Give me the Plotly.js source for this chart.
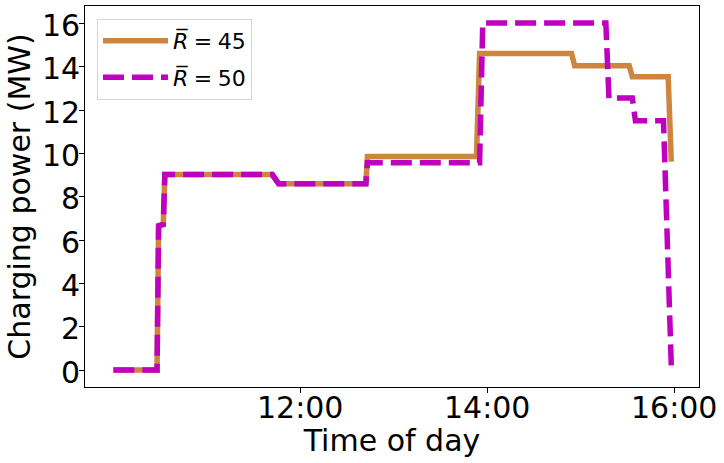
<!DOCTYPE html>
<html><head><meta charset="utf-8">
<script src="https://cdn.plot.ly/plotly-3.0.1.min.js"></script>
<style>html,body{margin:0;padding:0;background:#fff}#chart{width:724px;height:463px}</style>
</head><body><div id="chart"></div>
<script>
const day = '2021-01-01 ';
const timesR45 = ['10:00','10:28','10:29','10:32','10:33','11:42','11:46','12:42','12:43','13:53','13:55','14:54','14:56','15:31','15:33','15:56','15:58'];
const powerR45 = [0,0,6.66,6.72,9.02,9.02,8.6,8.6,9.86,9.86,14.61,14.61,14.04,14.04,13.54,13.54,9.62];
const timesR50 = ['10:00','10:28','10:29','10:32','10:33','11:42','11:46','12:42','12:43','13:55','13:57','15:16','15:18','15:33','15:35','15:53','15:58'];
const powerR50 = [0,0,6.66,6.72,9.02,9.02,8.6,8.6,9.57,9.57,16.02,16.02,12.55,12.55,11.5,11.5,0.2];
const xTickLabels = ['12:00','14:00','16:00'];
const yTickValues = [0,2,4,6,8,10,12,14,16];
const seriesNames = ['<i>R\u0305</i>\u2005=\u200545','<i>R\u0305</i>\u2005=\u200550'];

const font = 'DejaVu Sans, sans-serif';
const traces = [
  {x: timesR45.map(t => day + t), y: powerR45, mode: 'lines', name: seriesNames[0], legendgroup: 'a',
   line: {color: '#CD853F', width: 5.5}},
  {x: timesR50.map(t => day + t), y: powerR50, mode: 'lines', name: seriesNames[1], legendgroup: 'b',
   line: {color: '#BF00BF', width: 5.5, dash: '21px,8px'}}
];
const axisCommon = {
  ticks: 'outside', ticklen: 5, tickwidth: 1, tickcolor: '#000',
  showticklabels: false,
  showline: true, mirror: true, linecolor: '#000', linewidth: 1,
  showgrid: false, zeroline: false, automargin: false
};
// tick labels placed as text at the axes' own tick positions
const tickLabels = [];
xTickLabels.forEach(t => tickLabels.push({text: t, xref: 'x', yref: 'paper', x: day + t, y: 0,
  xanchor: 'center', yanchor: 'middle', yshift: -20, showarrow: false,
  font: {family: font, size: 30, color: '#000'}}));
yTickValues.forEach(v => tickLabels.push({text: String(v), xref: 'paper', yref: 'y', x: 0, y: v,
  xanchor: 'right', yanchor: 'middle', xshift: -3, yshift: -2, showarrow: false,
  font: {family: font, size: 30, color: '#000'}}));

const layout = {
  width: 724, height: 463,
  margin: {l: 85, r: 25, t: 6, b: 76, autoexpand: false},
  paper_bgcolor: '#fff', plot_bgcolor: '#fff',
  font: {family: font, color: '#000'},
  xaxis: Object.assign({}, axisCommon, {
    type: 'date',
    range: [day + '09:41:46', day + '16:15:47'],
    tickvals: xTickLabels.map(t => day + t),
    title: {text: 'Time of day', font: {family: font, size: 30, color: '#000'}, standoff: 37}
  }),
  yaxis: Object.assign({}, axisCommon, {
    range: [-0.78, 16.8], tickvals: yTickValues,
    title: {text: 'Charging power (MW)', font: {family: font, size: 30, color: '#000'}, standoff: 39}
  }),
  annotations: tickLabels,
  showlegend: true,
  legend: {x: 0.0195, y: 0.966, xanchor: 'left', yanchor: 'top',
    bgcolor: 'rgba(255,255,255,0.8)', bordercolor: '#d5d5d5', borderwidth: 1,
    font: {family: font, size: 22, color: '#000'}, tracegroupgap: 5, itemwidth: 65}
};
Plotly.newPlot('chart', traces, layout, {staticPlot: true, displayModeBar: false});
</script></body></html>
